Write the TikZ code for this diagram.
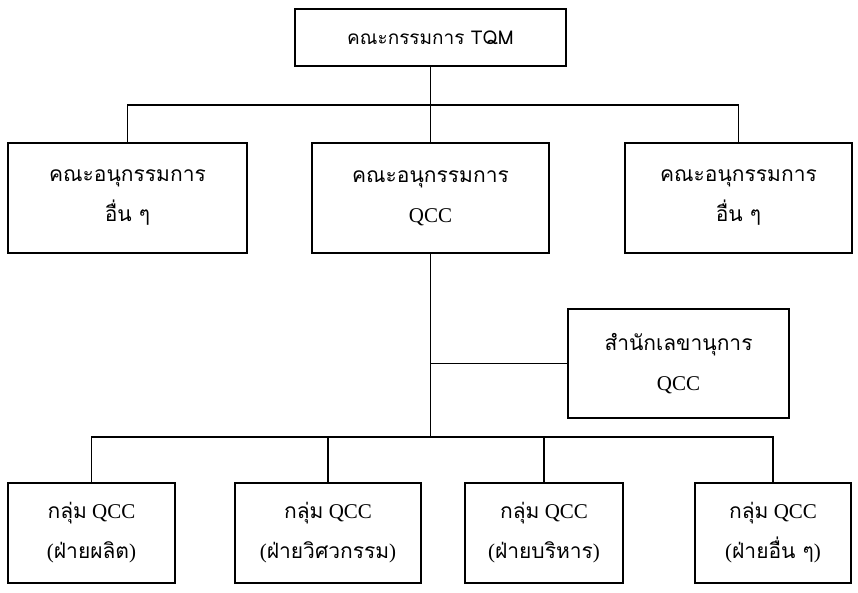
\documentclass[tikz,border=0pt]{standalone}
\usepackage{fontspec}
\setmainfont{Liberation Serif}
\newfontfamily\thai[Script=Thai]{Loma}
\begin{document}
\begin{tikzpicture}[x=1pt,y=-1pt,
  box/.style={draw,line width=1.4pt,inner sep=0pt,align=center,
    font=\fontsize{21}{40}\selectfont},
  conn/.style={line width=1.4pt}]
\useasboundingbox (0,0) rectangle (858,593);
\node[box,minimum width=271,minimum height=57,font=\fontsize{19}{24}\selectfont] (tqm) at (430.5,37.5) {\thai คณะกรรมการ TQM};
\node[box,minimum width=239,minimum height=110] (subL) at (127.5,198) {\thai คณะอนุกรรมการ\\\thai อื่น ๆ};
\node[box,minimum width=237,minimum height=110] (subQ) at (430.5,198) {\thai คณะอนุกรรมการ\\QCC};
\node[box,minimum width=227,minimum height=110] (subR) at (738.5,198) {\thai คณะอนุกรรมการ\\\thai อื่น ๆ};
\node[box,minimum width=221,minimum height=109] (sec) at (678.5,363.5) {\thai สำนักเลขานุการ\\QCC};
\node[box,minimum width=167,minimum height=100] (g1) at (91.5,533) {{\thai กลุ่ม} QCC\\({\thai ฝ่ายผลิต})};
\node[box,minimum width=186,minimum height=100] (g2) at (328,533) {{\thai กลุ่ม} QCC\\({\thai ฝ่ายวิศวกรรม})};
\node[box,minimum width=158,minimum height=100] (g3) at (544,533) {{\thai กลุ่ม} QCC\\({\thai ฝ่ายบริหาร})};
\node[box,minimum width=156,minimum height=100] (g4) at (773,533) {{\thai กลุ่ม} QCC\\({\thai ฝ่ายอื่น ๆ})};
\coordinate (h1) at (430.5,105);
\coordinate (h2) at (430.5,437);
\draw[conn] (tqm.south) -- (subQ.north);
\draw[conn] (subL.north) |- (h1) -| (subR.north);
\draw[conn] (subQ.south) -- (h2);
\draw[conn] (sec.west) -- (sec.west -| h2);
\draw[conn] (g1.north) |- (h2) -| (g4.north);
\draw[conn] (g2.north) -- (g2.north |- h2);
\draw[conn] (g3.north) -- (g3.north |- h2);
\end{tikzpicture}
\end{document}
